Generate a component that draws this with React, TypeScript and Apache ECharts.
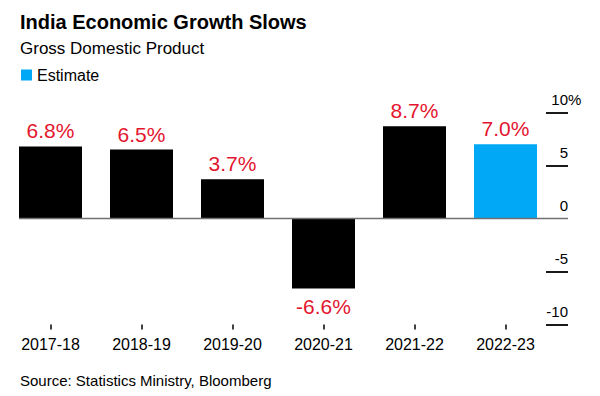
import React, { useEffect, useRef } from "react";
import * as echarts from "echarts";

const categories = ["2017-18", "2018-19", "2019-20", "2020-21", "2021-22", "2022-23"];
const actualValues: (number | null)[] = [6.8, 6.5, 3.7, -6.6, 8.7, null];
const estimateValues: (number | null)[] = [null, null, null, null, null, 7.0];
const yMin = -10;
const yMax = 10;
const yInterval = 5;

const FONT = "'Liberation Sans', Arial, Helvetica, sans-serif";
const RED = "#E4162F";
const BLUE = "#00A8F5";
const W = 600;
const H = 396;
const GRID_LEFT = 5;
const GRID_RIGHT = 49;
const TICK_LEN = 17;
const TICK_START = 546;
const BAR_W = 63;

function toData(vals: (number | null)[]) {
  return vals.map((v) =>
    v == null
      ? "-"
      : {
          value: v,
          label: v < 0 ? { position: "bottom", distance: 8 } : { position: "top", distance: 5 },
        }
  );
}

export default function App() {
  const ref = useRef<HTMLDivElement>(null);
  useEffect(() => {
    if (!ref.current) return;
    const chart = echarts.init(ref.current, null, { renderer: "svg" });
    const barLabel = {
      show: true,
      color: RED,
      fontSize: 21,
      fontFamily: FONT,
      formatter: (p: any) => Number(p.value).toFixed(1) + "%",
    };
    const yLabelBase = {
      fontSize: 15,
      color: "#000",
      fontFamily: FONT,
      verticalAlign: "bottom",
      margin: TICK_LEN,
      lineHeight: 15,
      padding: [0, 0, 6, 0],
    };
    chart.setOption({
      animation: false,
      backgroundColor: "#fff",
      textStyle: { fontFamily: FONT },
      title: [
        {
          text: "India Economic Growth Slows",
          left: 20,
          top: 12,
          padding: 0,
          textStyle: { fontSize: 20, fontWeight: "bold", color: "#000", fontFamily: FONT },
        },
        {
          text: "Gross Domestic Product",
          left: 20,
          top: 40,
          padding: 0,
          textStyle: { fontSize: 17, fontWeight: "normal", color: "#000", fontFamily: FONT },
        },
        {
          text: "Source: Statistics Ministry, Bloomberg",
          left: 20,
          top: 373,
          padding: 0,
          textStyle: { fontSize: 15, fontWeight: "normal", color: "#000", fontFamily: FONT },
        },
      ],
      legend: {
        data: [{ name: "Estimate", icon: "rect" }],
        left: 21,
        top: 67,
        padding: 0,
        itemWidth: 11,
        itemHeight: 11,
        textStyle: { fontSize: 16, color: "#000", fontFamily: FONT },
        selectedMode: false,
      },
      grid: { left: GRID_LEFT, right: GRID_RIGHT, top: 112.5, bottom: 71.5, containLabel: false },
      xAxis: {
        type: "category",
        data: categories,
        axisLine: { show: false, onZero: false },
        axisTick: { show: true, alignWithLabel: true, length: 5, lineStyle: { color: "#000", width: 1.5 } },
        axisLabel: { fontSize: 16, color: "#000", margin: 12, fontFamily: FONT, interval: 0 },
        splitLine: { show: false },
      },
      yAxis: [
        {
          type: "value",
          position: "right",
          min: yMin,
          max: yMax,
          interval: yInterval,
          axisLine: { show: false },
          splitLine: { show: false },
          axisTick: { show: false },
          axisLabel: { ...yLabelBase, align: "right", formatter: (v: number) => String(v) },
        },
        {
          type: "value",
          position: "right",
          min: yMin,
          max: yMax,
          interval: yInterval,
          axisLine: { show: false },
          splitLine: { show: false },
          axisTick: { show: false },
          axisLabel: { ...yLabelBase, align: "left", formatter: (v: number) => (v === yMax ? "%" : "") },
        },
      ],
      series: [
        {
          name: "Actual",
          type: "bar",
          stack: "g",
          barWidth: BAR_W,
          itemStyle: { color: "#000" },
          label: barLabel,
          data: toData(actualValues),
        },
        {
          name: "Estimate",
          type: "bar",
          stack: "g",
          barWidth: BAR_W,
          itemStyle: { color: BLUE },
          label: barLabel,
          data: toData(estimateValues),
        },
      ],
    });
    const toPx = (v: number) =>
      chart.convertToPixel({ xAxisIndex: 0, yAxisIndex: 0 }, [0, v]) as number[];
    const p0 = toPx(0);
    const xEnd = W - GRID_RIGHT + TICK_LEN;
    const tickVals: number[] = [];
    for (let v = yMin; v <= yMax; v += yInterval) tickVals.push(v);
    const graphics: any[] = [
      {
        type: "line",
        z: 100,
        shape: { x1: p0[0] - BAR_W / 2, y1: p0[1], x2: xEnd, y2: p0[1] },
        style: { stroke: "#707070", lineWidth: 1.5 },
      },
    ];
    tickVals.forEach((v) => {
      if (v === 0) return;
      const y = Math.round(toPx(v)[1]);
      graphics.push({
        type: "line",
        z: 100,
        shape: { x1: TICK_START, y1: y, x2: xEnd, y2: y },
        style: { stroke: "#1a1a1a", lineWidth: 2 },
      });
    });
    chart.setOption({ graphic: graphics });
    return () => chart.dispose();
  }, []);
  return <div ref={ref} style={{ position: "fixed", left: 0, top: 0, width: W, height: H }} />;
}
